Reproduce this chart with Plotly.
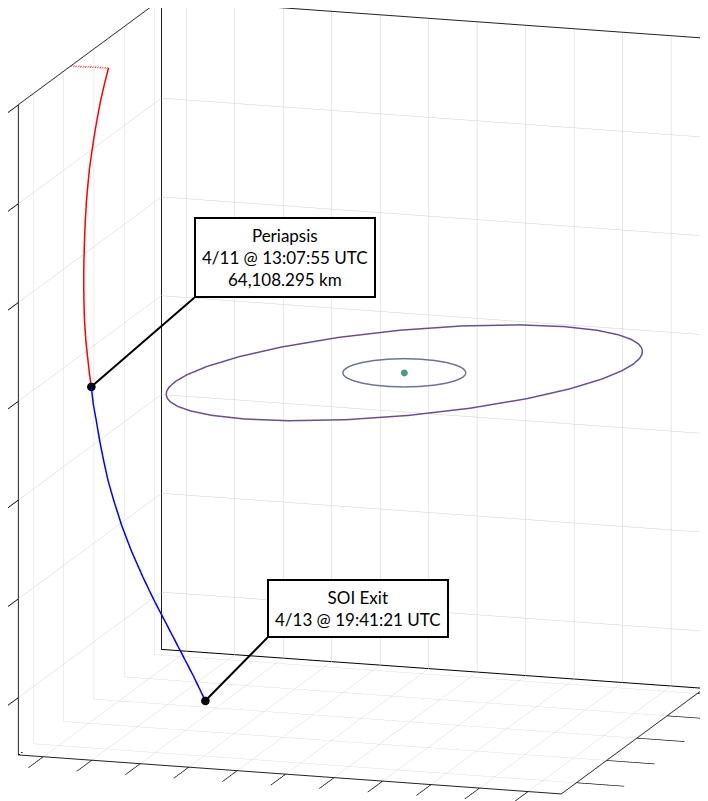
import plotly.graph_objects as go

# body at the centre of the rings (km)
body = dict(x=[-1000], y=[0], z=[-1000])

# outer ring
outer_x = [43472, 42018, 40236, 37217, 33073, 26970, 18545, 8465, -3735, -15747,
           -26755, -36007, -42115, -45888, -47537, -47841, -47358, -46588, -45472,
           -44018, -42236, -39217, -35073, -28970, -20545, -10465, 1735, 13747,
           24755, 34007, 40115, 43888, 45537, 45841, 45358, 44588, 43472]
outer_y = [14921, 18757, 22450, 27328, 32399, 37842, 42842, 46142, 47005, 44665,
           39281, 31220, 22490, 13396, 5353, -1210, -6938, -10971, -14921,
           -18757, -22450, -27328, -32399, -37842, -42842, -46142, -47005, -44665,
           -39281, -31220, -22490, -13396, -5353, 1210, 6938, 10971, 14921]
outer_z = [3234, 3000, 2736, 2318, 1780, 1033, 59, -1049, -2320, -3501,
           -4512, -5283, -5717, -5903, -5894, -5780, -5604, -5436, -5234,
           -5000, -4736, -4318, -3780, -3033, -2059, -951, 320, 1501,
           2512, 3283, 3717, 3903, 3894, 3780, 3604, 3436, 3234]

# inner ring (flat)
inner_x = [10551, 10193, 9750, 8993, 7946, 6395, 4243, 1656, -1490, -4603,
           -7470, -9896, -11513, -12529, -12992, -13099, -13002, -12821, -12551,
           -12193, -11750, -10993, -9946, -8395, -6243, -3656, -510, 2603,
           5470, 7896, 9513, 10529, 10992, 11099, 11002, 10821, 10551]
inner_y = [3603, 4596, 5554, 6823, 8147, 9576, 10905, 11805, 12090, 11551,
           10224, 8201, 5991, 3674, 1617, -69, -1542, -2582, -3603,
           -4596, -5554, -6823, -8147, -9576, -10905, -11805, -12090, -11551,
           -10224, -8201, -5991, -3674, -1617, 69, 1542, 2582, 3603]
inner_z = [-1000] * len(inner_x)

# approach leg (to periapsis)
inbound_x = [-60140, -60470, -60740, -60880, -60960, -60980, -60960, -60810, -60640, -60310,
             -59910, -59470, -58960, -58370, -57710, -56900, -55950, -55320, -54620]
inbound_y = [-6010, -7650, -9370, -11060, -12640, -14290, -15930, -17530, -19010, -20850,
             -22670, -24460, -26240, -27980, -29710, -31390, -33030, -34090, -35130]
inbound_z = [57920, 55030, 51960, 48900, 46000, 42930, 39860, 36790, 33910, 30290,
             26680, 23080, 19460, 15850, 12240, 8620, 5020, 2670, 330]

# departure leg (periapsis to SOI exit)
outbound_x = [-54620, -53950, -53070, -52080, -50970, -49790, -48360, -46420, -44180, -41670,
              -38980, -36080, -33200, -30310, -27610]
outbound_y = [-35130, -35980, -36780, -37710, -38610, -39500, -40300, -41250, -42110, -42900,
              -43610, -44270, -44940, -45590, -46310]
outbound_z = [330, -2880, -6080, -9840, -13620, -17380, -21140, -25850, -30560, -35270,
              -39970, -44680, -49380, -54100, -58810]

# dotted lead-in
lead_x = [-60140, -65800]
lead_y = [-6010, -12300]
lead_z = [57920, 59300]

peri = (-54620, -35130, 330)
soi = (-27610, -46310, -58810)

x_range = [-65870, 46130]
y_range = [-47300, 47300]
z_range = [-72250, 59400]

x_ticks = [-60720, -50720, -40720, -30720, -20720, -10720, -720, 9280, 19280, 29280, 39280]
y_ticks = [-37300, -17300, 2700, 22700, 42700]
z_ticks = [59350, 39350, 19350, -650, -20650, -40650, -60650]

fig = go.Figure()

# pane edges that the axis lines do not cover
x0, x1 = x_range
y0, y1 = y_range
z0, z1 = z_range
fig.add_trace(go.Scatter3d(x=[x0, x0, x1, None, x0, x0], y=[y0, y1, y1, None, y1, y1],
                           z=[z0, z0, z0, None, z0, z1], mode='lines', connectgaps=False,
                           line=dict(color='black', width=2), hoverinfo='skip'))

fig.add_trace(go.Scatter3d(x=outer_x, y=outer_y, z=outer_z, mode='lines',
                           line=dict(color='#6b4f8c', width=3), hoverinfo='skip'))
fig.add_trace(go.Scatter3d(x=inner_x, y=inner_y, z=inner_z, mode='lines',
                           line=dict(color='#6a7590', width=3), hoverinfo='skip'))
fig.add_trace(go.Scatter3d(x=body['x'], y=body['y'], z=body['z'], mode='markers',
                           marker=dict(size=4, color='#45998a'), hoverinfo='skip'))
fig.add_trace(go.Scatter3d(x=lead_x, y=lead_y, z=lead_z, mode='lines',
                           line=dict(color='red', width=3.5, dash='dot'), hoverinfo='skip'))
fig.add_trace(go.Scatter3d(x=inbound_x, y=inbound_y, z=inbound_z, mode='lines',
                           line=dict(color='red', width=3), hoverinfo='skip'))
fig.add_trace(go.Scatter3d(x=outbound_x, y=outbound_y, z=outbound_z, mode='lines',
                           line=dict(color='blue', width=3), hoverinfo='skip'))
fig.add_trace(go.Scatter3d(x=[peri[0], soi[0]], y=[peri[1], soi[1]], z=[peri[2], soi[2]],
                           mode='markers', marker=dict(size=5, color='black'), hoverinfo='skip'))

axis_style = dict(showticklabels=False, ticks='outside', ticklen=50, tickcolor='black',
                  tickwidth=2, showgrid=True, gridcolor='#cfcfcf', gridwidth=1,
                  showline=True, linecolor='#222222', linewidth=2, mirror=True,
                  zeroline=False, showbackground=True, backgroundcolor='white',
                  showspikes=False, title=dict(text=''))

box_font = dict(family='Lato', size=17, color='black')

# view direction and look-at point (scene units)
look_at = dict(x=0.0037, y=-0.0061, z=-0.0291)
view_dir = (0.2898, -0.9290, 0.2302)

fig.update_layout(
    width=708, height=801,
    margin=dict(l=0, r=0, t=0, b=0),
    paper_bgcolor='white',
    showlegend=False,
    scene=dict(
        xaxis=dict(range=x_range, tickvals=x_ticks, **axis_style),
        yaxis=dict(range=y_range, tickvals=y_ticks, **axis_style),
        zaxis=dict(range=z_range, tickvals=z_ticks, **axis_style),
        aspectmode='manual',
        aspectratio=dict(x=1.42, y=1.1993, z=1.6685),
        camera=dict(projection=dict(type='orthographic'),
                    up=dict(x=0, y=0, z=1),
                    center=look_at,
                    eye=dict(x=look_at['x'] + 3 * view_dir[0],
                             y=look_at['y'] + 3 * view_dir[1],
                             z=look_at['z'] + 3 * view_dir[2])),
        annotations=[
            dict(x=peri[0], y=peri[1], z=peri[2],
                 text='Periapsis<br>4/11 @ 13:07:55 UTC<br>64,108.295 km',
                 showarrow=True, arrowhead=0, arrowwidth=2, arrowcolor='black',
                 ax=103, ay=-89, xanchor='left', yanchor='bottom',
                 bordercolor='black', borderwidth=2, borderpad=6, bgcolor='white',
                 font=box_font),
            dict(x=soi[0], y=soi[1], z=soi[2],
                 text='SOI Exit<br>4/13 @ 19:41:21 UTC',
                 showarrow=True, arrowhead=0, arrowwidth=2, arrowcolor='black',
                 ax=62, ay=-63, xanchor='left', yanchor='bottom',
                 bordercolor='black', borderwidth=2, borderpad=6, bgcolor='white',
                 font=box_font),
        ],
    ),
)

fig.write_html("out.html")
